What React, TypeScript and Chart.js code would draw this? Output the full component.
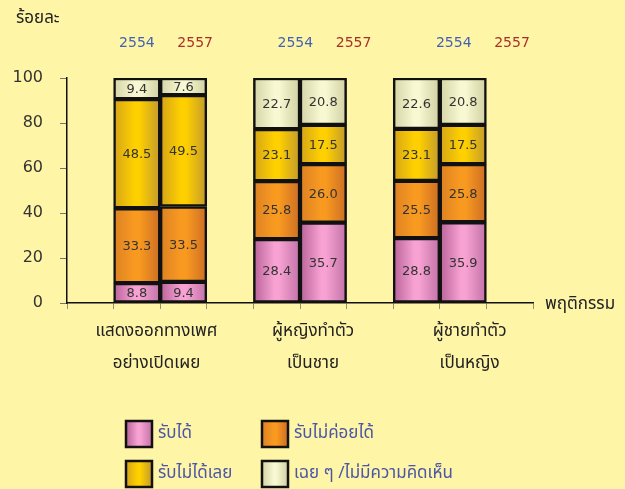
import React, { useEffect, useRef } from 'react';
import { Chart, registerables } from 'chart.js';

Chart.register(...registerables);

// ---------- data ----------
const groupLabels = [
  ['แสดงออกทางเพศ', 'อย่างเปิดเผย'],
  ['ผู้หญิงทำตัว', 'เป็นชาย'],
  ['ผู้ชายทำตัว', 'เป็นหญิง'],
];
const years = ['2554', '2557'];
const seriesNames = ['รับได้', 'รับไม่ค่อยได้', 'รับไม่ได้เลย', 'เฉย ๆ /ไม่มีความคิดเห็น'];
// order: group1-2554, group1-2557, group2-2554, group2-2557, group3-2554, group3-2557
const accept = [8.8, 9.4, 28.4, 35.7, 28.8, 35.9];
const rarelyAccept = [33.3, 33.5, 25.8, 26.0, 25.5, 25.8];
const notAccept = [48.5, 49.5, 23.1, 17.5, 23.1, 17.5];
const neutral = [9.4, 7.6, 22.7, 20.8, 22.6, 20.8];
const yMin = 0;
const yMax = 100;
const yStep = 20;
const yTitle = 'ร้อยละ';
const xTitle = 'พฤติกรรม';

// ---------- styles ----------
const BG = '#fff5a6';
const THAI = '"Noto Sans Thai", "Noto Sans Thai UI", Tahoma, Loma, Garuda, Waree, "DejaVu Sans", sans-serif';
const NUM = '"DejaVu Sans", Verdana, sans-serif';
const palettes = [
  ['#b8629a', '#f7a2d2', '#c272a8'],
  ['#dc8124', '#f99a20', '#cc6e24'],
  ['#d4a418', '#ffd000', '#c29a2c'],
  ['#d4d4a6', '#f8f8d2', '#d0d0a2'],
];
const yearColors = ['#4462b4', '#a8302a'];
const legendTextColor = '#4a56a8';

// slots: empty, bar, bar, empty, bar, bar, empty, bar, bar, empty
const slotLabels: string[] = [''];
groupLabels.forEach((g, gi) => {
  years.forEach((y) => slotLabels.push(`${gi}-${y}`));
  slotLabels.push('');
});
const barSlotIndex: number[] = [];
slotLabels.forEach((l, i) => { if (l) barSlotIndex.push(i); });

const toSlots = (arr: number[]) => {
  const out: (number | null)[] = slotLabels.map(() => null);
  barSlotIndex.forEach((si, k) => { out[si] = arr[k]; });
  return out;
};

const makeGrad = (ctx2d: CanvasRenderingContext2D, x0: number, x1: number, pal: string[]) => {
  const g = ctx2d.createLinearGradient(x0, 0, x1, 0);
  g.addColorStop(0, pal[0]);
  g.addColorStop(0.45, pal[1]);
  g.addColorStop(0.55, pal[1]);
  g.addColorStop(1, pal[2]);
  return g;
};

const gradFill = (pal: string[]) => (ctx: any) => {
  const chart = ctx.chart;
  const xs = chart.scales && chart.scales.x;
  if (!xs || ctx.type !== 'data' || !xs.width) return pal[1];
  const cx = xs.getPixelForValue(ctx.dataIndex);
  const w = xs.width / slotLabels.length;
  return makeGrad(chart.ctx, cx - w / 2, cx + w / 2, pal);
};

const textPlugin = {
  id: 'textPlugin',
  afterDraw(chart: any) {
    const c: CanvasRenderingContext2D = chart.ctx;
    const xs = chart.scales.x;
    const ys = chart.scales.y;
    const catW = xs.width / slotLabels.length;
    c.save();

    // value labels
    c.font = `13px ${NUM}`;
    c.fillStyle = '#333333';
    c.textAlign = 'center';
    c.textBaseline = 'middle';
    chart.data.datasets.forEach((ds: any, di: number) => {
      const meta = chart.getDatasetMeta(di);
      meta.data.forEach((el: any, i: number) => {
        const v = ds.data[i];
        if (v === null || v === undefined) return;
        c.fillText(v.toFixed(1), el.x, (el.y + el.base) / 2 + 1);
      });
    });

    // year labels
    c.font = `14px ${NUM}`;
    const yearBase = xs.getPixelForValue(barSlotIndex[0]);
    groupLabels.forEach((_, gi) => {
      years.forEach((y, yi) => {
        c.fillStyle = yearColors[yi];
        c.fillText(y, yearBase + gi * 3.4 * catW + yi * 1.25 * catW, 43);
      });
    });

    // group labels
    c.font = `17px ${THAI}`;
    c.fillStyle = '#222222';
    const g0 = (xs.getPixelForValue(barSlotIndex[0]) + xs.getPixelForValue(barSlotIndex[1])) / 2;
    groupLabels.forEach((lines, gi) => {
      const cx = g0 - 0.08 * catW + gi * 3.36 * catW;
      lines.forEach((line, li) => {
        c.fillText(line, cx, ys.bottom + 30 + li * 32);
      });
    });

    // axis titles
    c.textAlign = 'left';
    c.fillText(xTitle, xs.right + 12, ys.bottom + 3);
    c.fillText(yTitle, 16, 20);

    // legend
    const items = [
      { x: 126, y: 421 },
      { x: 262, y: 421 },
      { x: 126, y: 461 },
      { x: 262, y: 461 },
    ];
    c.font = `17px ${THAI}`;
    items.forEach((it, i) => {
      const s = 26;
      c.fillStyle = makeGrad(c, it.x, it.x + s, palettes[i]);
      c.fillRect(it.x, it.y, s, s);
      c.lineWidth = 2.5;
      c.strokeStyle = '#111111';
      c.strokeRect(it.x, it.y, s, s);
      c.fillStyle = legendTextColor;
      c.textAlign = 'left';
      c.fillText(seriesNames[i], it.x + s + 6, it.y + s / 2 + 1);
    });

    c.restore();
  },
};

export default function App() {
  const ref = useRef<HTMLCanvasElement | null>(null);

  useEffect(() => {
    if (!ref.current) return;
    const seriesData = [accept, rarelyAccept, notAccept, neutral];
    const chart = new Chart(ref.current, {
      type: 'bar',
      data: {
        labels: slotLabels,
        datasets: seriesData.map((arr, i) => ({
          label: seriesNames[i],
          data: toSlots(arr),
          backgroundColor: gradFill(palettes[i]),
          borderColor: '#111111',
          borderWidth: 2.5,
          borderSkipped: false,
          categoryPercentage: 1,
          barPercentage: 1,
        })),
      },
      options: {
        responsive: false,
        animation: false,
        devicePixelRatio: 1,
        layout: { padding: { left: 0, top: 78, right: 92, bottom: 176 } },
        plugins: {
          legend: { display: false },
          tooltip: { enabled: false },
          title: { display: false },
        },
        scales: {
          x: {
            stacked: true,
            grid: {
              display: true,
              drawOnChartArea: false,
              drawTicks: true,
              tickLength: 6,
              color: '#9a9070',
              offset: true,
            },
            border: { display: true, color: '#111111', width: 1.5 },
            ticks: { display: false },
            afterFit: (s: any) => { s.height = 10; },
          },
          y: {
            stacked: true,
            min: yMin,
            max: yMax,
            grid: {
              display: true,
              drawOnChartArea: false,
              drawTicks: true,
              tickLength: 7,
              color: '#777777',
            },
            border: { display: true, color: '#111111', width: 1.5 },
            ticks: {
              stepSize: yStep,
              padding: 17,
              color: '#333333',
              font: { family: NUM, size: 16 },
            },
            afterFit: (s: any) => { s.width = 67; },
          },
        },
      },
      plugins: [textPlugin],
    });
    return () => chart.destroy();
  }, []);

  return (
    <div style={{ position: 'fixed', left: 0, top: 0, width: 625, height: 489, background: BG }}>
      <canvas ref={ref} width={625} height={489} style={{ display: 'block' }} />
    </div>
  );
}
